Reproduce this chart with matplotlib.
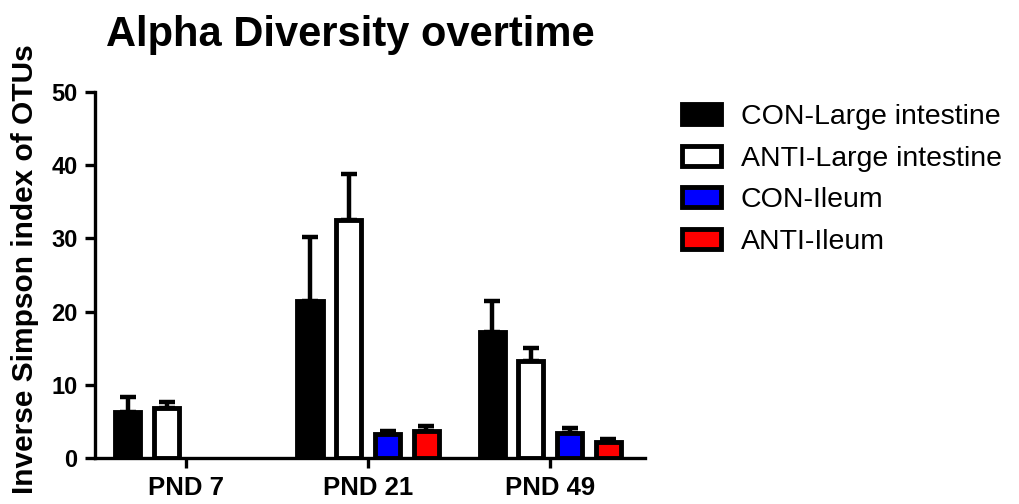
import numpy as np
import matplotlib

matplotlib.use("Agg")
import matplotlib.pyplot as plt

plt.rcParams.update(
    {
        "font.family": ["Liberation Sans", "DejaVu Sans"],
        "font.size": 16,
    }
)

# mean inverse Simpson index with SEM, per time point
timepoints = ["PND 7", "PND 21", "PND 49"]
groups = ["CON-Large intestine", "ANTI-Large intestine", "CON-Ileum", "ANTI-Ileum"]
con_large = [6.3, 21.5, 17.2]
con_large_err = [2.0, 8.7, 4.3]
anti_large = [6.8, 32.5, 13.3]
anti_large_err = [0.9, 6.3, 1.8]
con_ileum = [np.nan, 3.35, 3.5]
con_ileum_err = [np.nan, 0.35, 0.7]
anti_ileum = [np.nan, 3.7, 2.2]
anti_ileum_err = [np.nan, 0.7, 0.4]

series = [
    (con_large, con_large_err, "black"),
    (anti_large, anti_large_err, "white"),
    (con_ileum, con_ileum_err, "#0000ff"),
    (anti_ileum, anti_ileum_err, "#ff0000"),
]

W, H = 1019, 504
fig = plt.figure(figsize=(W / 100, H / 100), dpi=100)
ax = fig.add_axes([95 / W, 1 - 458.3 / H, 550 / W, 366.6 / H])

x = np.arange(len(timepoints))
pitch = 0.213
width = 0.138
lw = 3.5

handles = []
for i, (vals, errs, color) in enumerate(series):
    vals = np.asarray(vals, float)
    errs = np.asarray(errs, float)
    ok = ~np.isnan(vals)
    xs = x[ok] + (i - 1.5) * pitch
    ax.errorbar(
        xs, vals[ok], yerr=[np.zeros(ok.sum()), errs[ok]],
        fmt="none", ecolor="black", elinewidth=3.2, capsize=5.6,
        capthick=3.2, zorder=1,
    )
    bars = ax.bar(
        xs, vals[ok], width=width, color=color, edgecolor="black",
        linewidth=lw, zorder=2, label=groups[i],
    )
    handles.append(bars)

ax.set_xlim(-0.5, 2.52)
ax.set_ylim(0, 50)
ax.set_yticks([0, 10, 20, 30, 40, 50])
ax.set_xticks(x)
ax.set_xticklabels(timepoints)

for side in ("top", "right"):
    ax.spines[side].set_visible(False)
for side in ("left", "bottom"):
    ax.spines[side].set_linewidth(2.4)
    ax.spines[side].set_zorder(3)

ax.tick_params(axis="y", length=7, width=2.4, pad=5.5, labelsize=17)
ax.tick_params(axis="x", length=7, width=2.4, pad=6, labelsize=18.5)
for lab in ax.get_xticklabels() + ax.get_yticklabels():
    lab.set_fontweight("bold")

fig.text(350 / W, 1 - 46 / H, "Alpha Diversity overtime",
         ha="center", va="baseline", fontsize=30, fontweight="bold")
fig.text(25.5 / W, 1 - 269 / H, "Inverse Simpson index of OTUs",
         rotation=90, ha="center", va="center", fontsize=21.5, fontweight="bold")

fig.legend(
    handles=handles, loc="upper left", bbox_to_anchor=(682 / W, 1 - 104 / H),
    frameon=False, fontsize=20.5, borderpad=0, borderaxespad=0,
    handlelength=1.37, handleheight=0.7, handletextpad=0.7,
    labelspacing=0.55,
)

fig.savefig("out.png", dpi=100)
